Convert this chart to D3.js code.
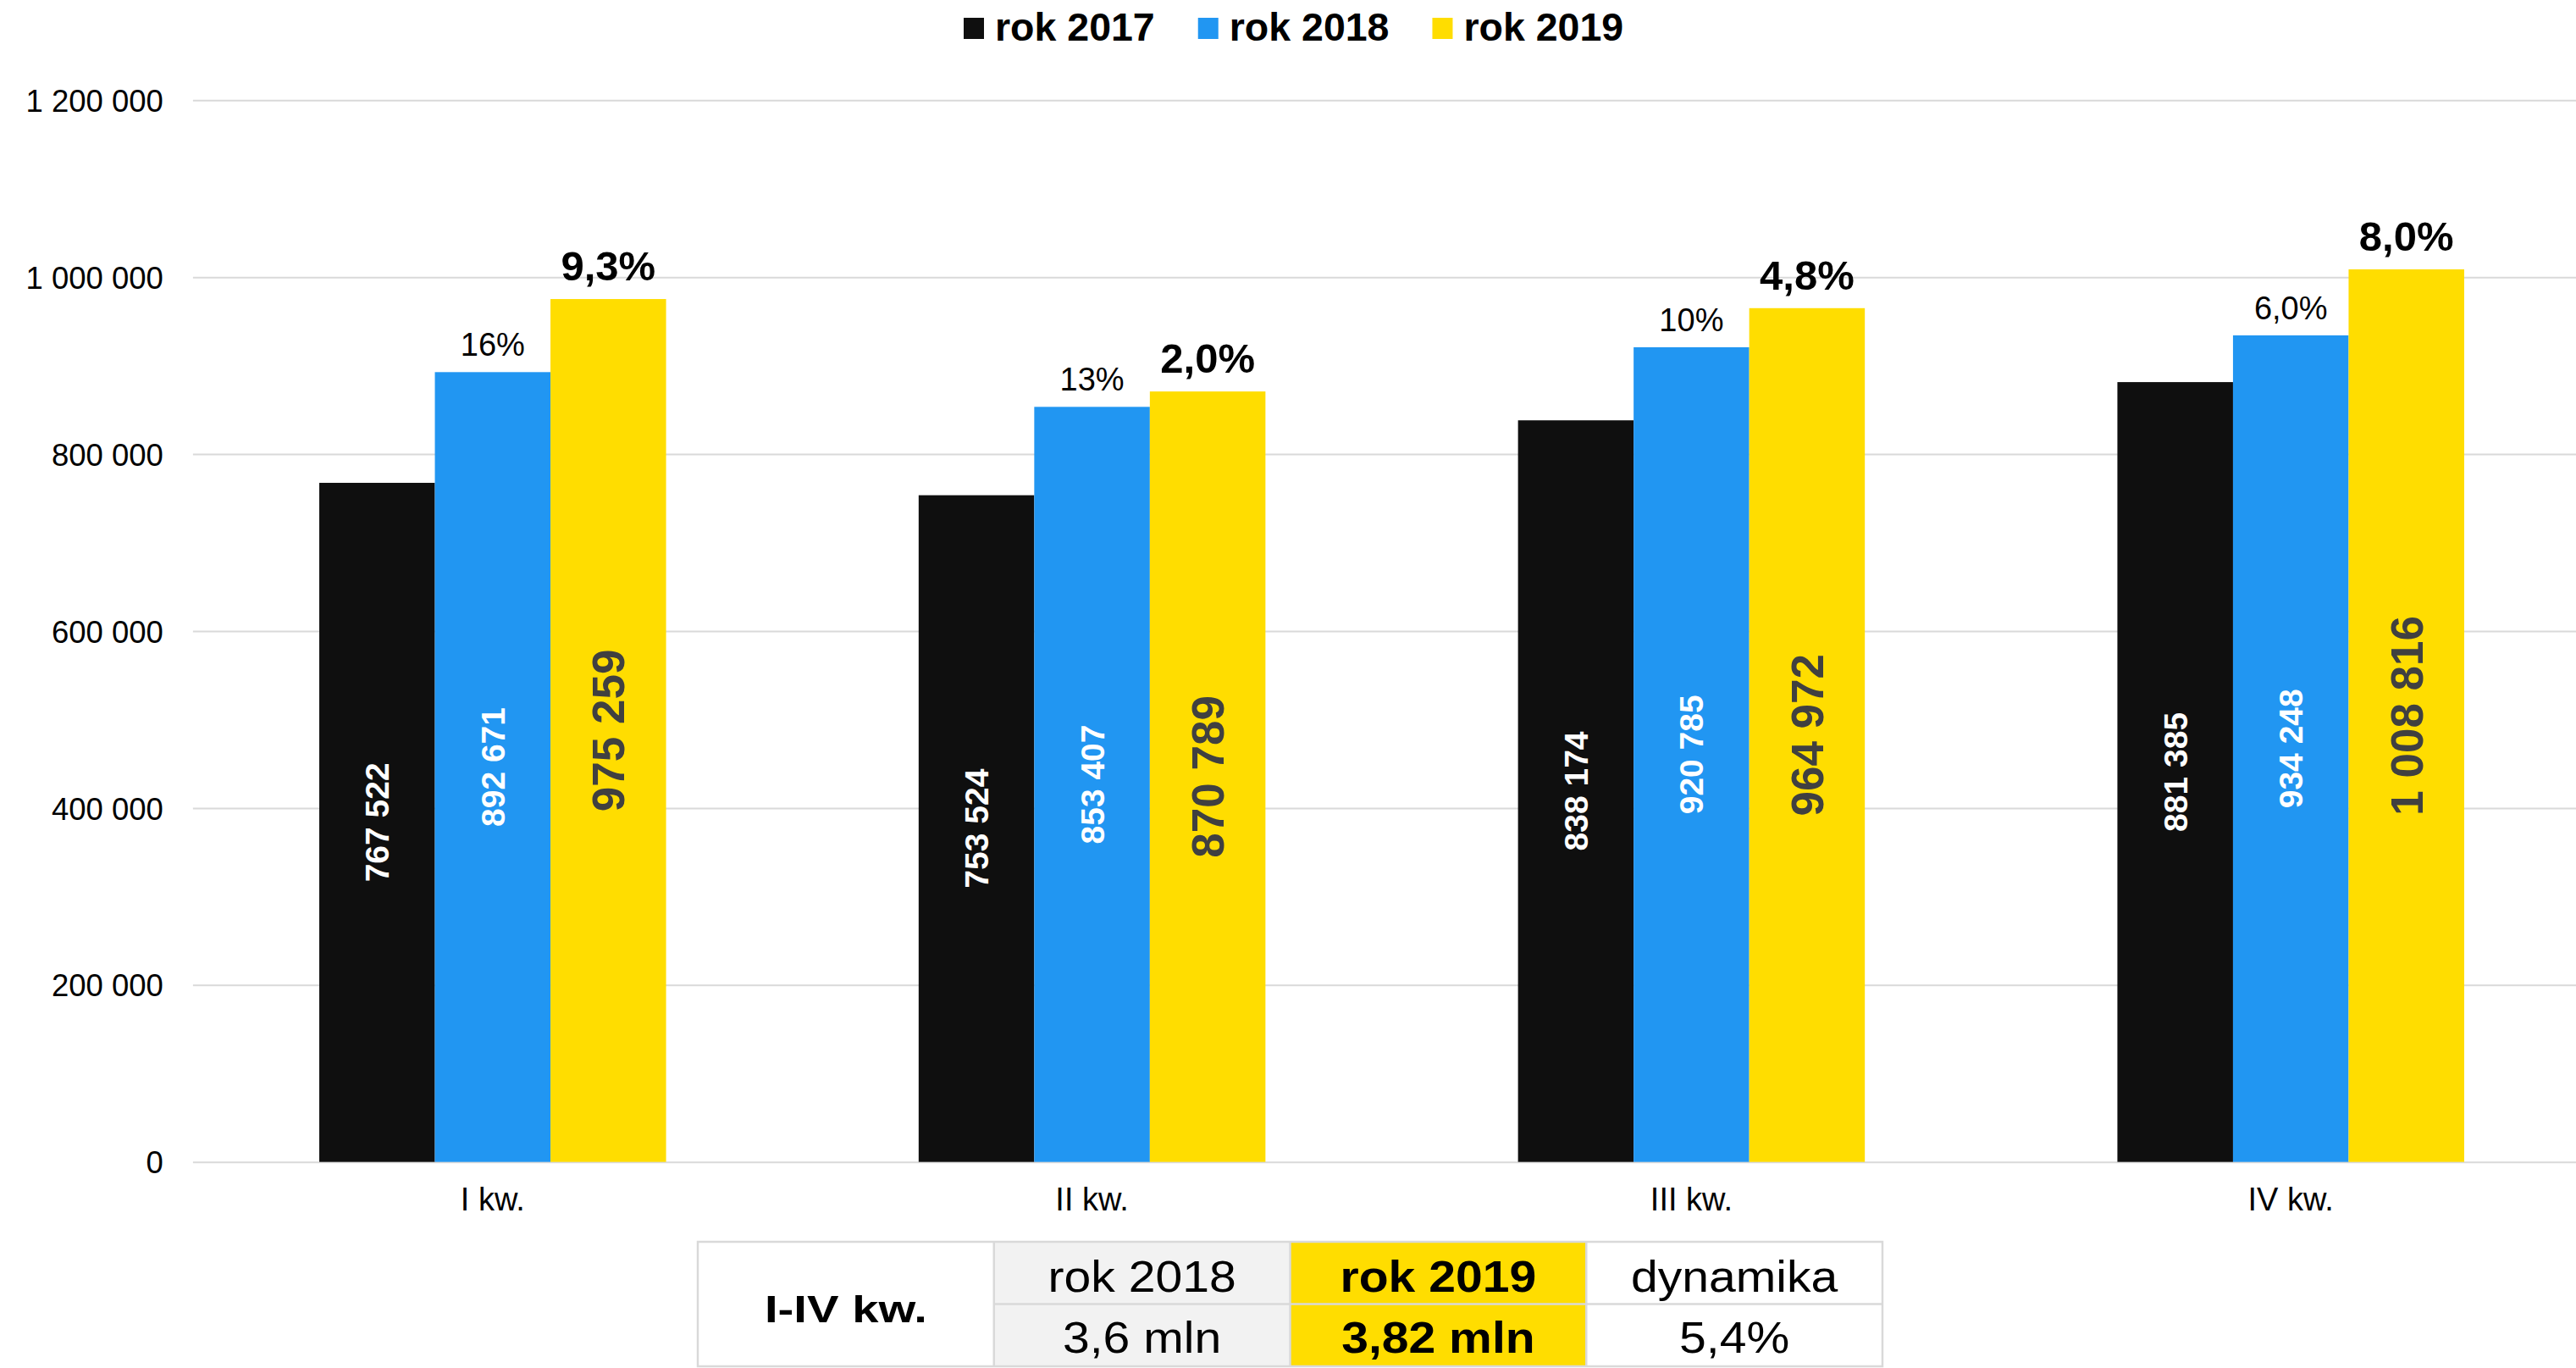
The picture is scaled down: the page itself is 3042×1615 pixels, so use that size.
<!DOCTYPE html>
<html>
<head>
<meta charset="utf-8">
<script src="https://cdn.jsdelivr.net/npm/d3@7"></script>
<style>
  html, body { margin: 0; padding: 0; background: #fff; }
  svg { display: block; font-family: "Liberation Sans", Arial, sans-serif; }
</style>
</head>
<body>
<svg id="chart" width="3042" height="1615"></svg>
<script>
// ---------- DATA ----------
const categories = ["I kw.", "II kw.", "III kw.", "IV kw."];
const seriesNames = ["rok 2017", "rok 2018", "rok 2019"];
const values2017 = [767522, 753524, 838174, 881385];
const values2018 = [892671, 853407, 920785, 934248];
const values2019 = [975259, 870789, 964972, 1008816];
const growth2018 = ["16%", "13%", "10%", "6,0%"];
const growth2019 = ["9,3%", "2,0%", "4,8%", "8,0%"];
const yTicks = [0, 200000, 400000, 600000, 800000, 1000000, 1200000];
const summaryTitle = "I-IV kw.";
const summaryHeaders = ["rok 2018", "rok 2019", "dynamika"];
const summaryValues = ["3,6 mln", "3,82 mln", "5,4%"];

// ---------- STYLE ----------
const colors = ["#0f0f0f", "#2196f2", "#ffdd00"];
const W = 3042, H = 1615;
const plot = { left: 227.9, right: 3059.1, top: 118.3, bottom: 1371.7 };

const svg = d3.select("#chart");
svg.append("rect").attr("width", W).attr("height", H).attr("fill", "#fff");

const fmtSpace = v => d3.format(",")(v).replace(/,/g, " ");

const x0 = d3.scaleBand().domain(categories)
  .range([plot.left, plot.right]).paddingInner(0.4214).paddingOuter(0.2107);
const x1 = d3.scaleBand().domain(seriesNames).range([0, x0.bandwidth()]).padding(0);
const y = d3.scaleLinear().domain([0, 1200000]).range([plot.bottom, plot.top]);

// gridlines + y labels
const yAxis = svg.append("g").attr("transform", `translate(${plot.left},0)`)
  .call(d3.axisLeft(y).tickValues(yTicks).tickFormat(fmtSpace)
    .tickSize(-(W - plot.left)).tickPadding(35));
yAxis.select(".domain").remove();
yAxis.selectAll(".tick line").attr("stroke", "#d9d9d9").attr("stroke-width", 2);
yAxis.selectAll(".tick text").attr("font-size", 36.5).attr("fill", "#000")
  .attr("font-family", "'Liberation Sans', Arial, sans-serif").attr("dy", "0.36em");

// category axis
const xAxis = svg.append("g").attr("transform", `translate(0,${plot.bottom})`)
  .call(d3.axisBottom(x0).tickSize(0).tickPadding(30));
xAxis.select(".domain").remove();
xAxis.selectAll(".tick text").attr("font-size", 38).attr("fill", "#000")
  .attr("font-family", "'Liberation Sans', Arial, sans-serif");

// bars
const seriesValues = [values2017, values2018, values2019];
const rows = [];
categories.forEach((c, i) => {
  seriesNames.forEach((s, j) => rows.push({ cat: c, ser: s, j, i, v: seriesValues[j][i] }));
});

const barG = svg.append("g");
barG.selectAll("rect").data(rows).join("rect")
  .attr("x", d => x0(d.cat) + x1(d.ser))
  .attr("y", d => y(d.v))
  .attr("width", x1.bandwidth())
  .attr("height", d => y(0) - y(d.v))
  .attr("fill", d => colors[d.j]);

// value labels inside bars (rotated)
barG.selectAll("text.val").data(rows).join("text")
  .attr("class", "val")
  .attr("transform", d => `translate(${x0(d.cat) + x1(d.ser) + x1.bandwidth() / 2},${(y(d.v) + y(0)) / 2}) rotate(-90)`)
  .attr("text-anchor", "middle")
  .attr("dy", "0.36em")
  .attr("font-weight", "bold")
  .attr("font-size", d => d.j === 2 ? 53 : 39)
  .attr("fill", d => d.j === 2 ? "#404040" : "#ffffff")
  .text(d => fmtSpace(d.v));

// growth labels above bars
const g18 = categories.map((c, i) => ({ cat: c, v: values2018[i], t: growth2018[i] }));
const g19 = categories.map((c, i) => ({ cat: c, v: values2019[i], t: growth2019[i] }));
svg.append("g").selectAll("text").data(g18).join("text")
  .attr("x", d => x0(d.cat) + x1("rok 2018") + x1.bandwidth() / 2)
  .attr("y", d => y(d.v) - 19)
  .attr("text-anchor", "middle").attr("font-size", 38).attr("fill", "#000")
  .text(d => d.t);
svg.append("g").selectAll("text").data(g19).join("text")
  .attr("x", d => x0(d.cat) + x1("rok 2019") + x1.bandwidth() / 2)
  .attr("y", d => y(d.v) - 22)
  .attr("text-anchor", "middle").attr("font-size", 49).attr("font-weight", "bold").attr("fill", "#000")
  .text(d => d.t);

// legend
const legend = svg.append("g");
let lx = 1138;
seriesNames.forEach((s, j) => {
  legend.append("rect").attr("x", lx).attr("y", 21).attr("width", 24).attr("height", 25).attr("fill", colors[j]);
  const t = legend.append("text").attr("x", lx + 37).attr("y", 48)
    .attr("font-size", 46.5).attr("font-weight", "bold").attr("fill", "#000").text(s);
  lx = lx + 37 + t.node().getComputedTextLength() + 51;
});

// summary table
const tbl = svg.append("g");
const colX = d3.scaleBand().domain(d3.range(4)).range([824, 2223]);
const rowY = d3.scaleBand().domain(d3.range(2)).range([1466, 1613]);
const cellFill = ["#ffffff", "#f2f2f2", "#ffdd00", "#ffffff"];
// first column (merged)
tbl.append("rect").attr("x", colX(0)).attr("y", rowY(0)).attr("width", colX.bandwidth())
  .attr("height", rowY.bandwidth() * 2).attr("fill", cellFill[0]);
for (let c = 1; c < 4; c++) {
  for (let r = 0; r < 2; r++) {
    tbl.append("rect").attr("x", colX(c)).attr("y", rowY(r)).attr("width", colX.bandwidth())
      .attr("height", rowY.bandwidth()).attr("fill", cellFill[c]);
  }
}
// grid lines
const lineStyle = sel => sel.attr("stroke", "#d9d9d9").attr("stroke-width", 2.5);
tbl.append("rect").attr("x", colX(0)).attr("y", rowY(0)).attr("width", colX.bandwidth() * 4)
  .attr("height", rowY.bandwidth() * 2).attr("fill", "none").call(lineStyle);
for (let c = 1; c < 4; c++) {
  tbl.append("line").attr("x1", colX(c)).attr("x2", colX(c)).attr("y1", rowY(0)).attr("y2", rowY(1) + rowY.bandwidth()).call(lineStyle);
}
tbl.append("line").attr("x1", colX(1)).attr("x2", colX(3) + colX.bandwidth()).attr("y1", rowY(1)).attr("y2", rowY(1)).call(lineStyle);

function cellText(txt, cx, by, size, bold, sx) {
  tbl.append("text").attr("transform", `translate(${cx},${by}) scale(${sx},1)`)
    .attr("text-anchor", "middle").attr("font-size", size)
    .attr("font-weight", bold ? "bold" : "normal").attr("fill", "#000").text(txt);
}
cellText(summaryTitle, colX(0) + colX.bandwidth() / 2, 1561, 44, true, 1.28);
summaryHeaders.forEach((t, i) => cellText(t, colX(i + 1) + colX.bandwidth() / 2, 1525, 51, i === 1, 1.12));
summaryValues.forEach((t, i) => cellText(t, colX(i + 1) + colX.bandwidth() / 2, 1597, 51, i === 1, 1.12));
</script>
</body>
</html>
